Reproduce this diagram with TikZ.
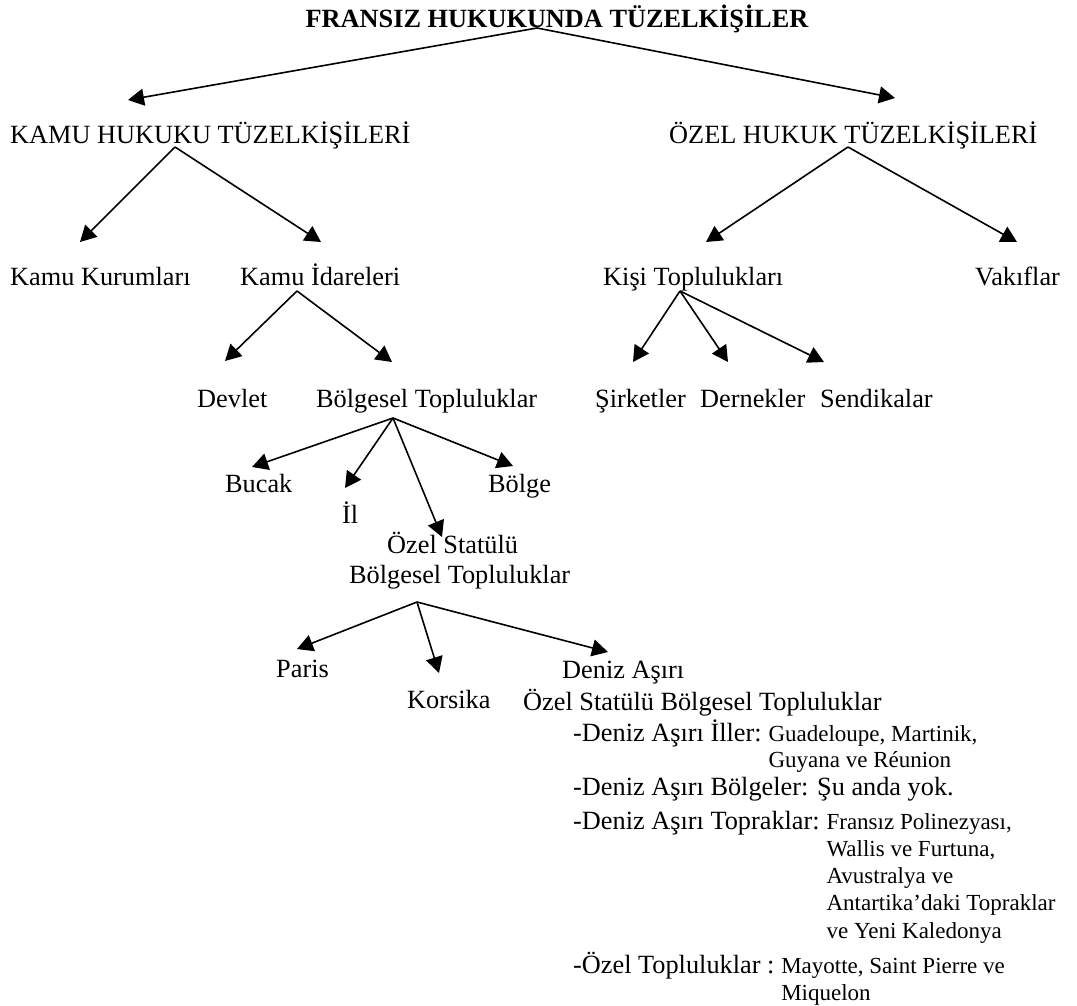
\documentclass[tikz,border=0pt]{standalone}
\usepackage{fontspec}
\setmainfont{Liberation Serif}
\usetikzlibrary{arrows.meta}
\tikzset{
  lbl/.style={inner sep=0pt, anchor=base west, font=\fontsize{26.3}{30}\selectfont},
  sml/.style={inner sep=0pt, anchor=base west, font=\fontsize{23}{27}\selectfont},
  ttl/.style={inner sep=0pt, anchor=base, font=\bfseries\fontsize{26.3}{30}\selectfont},
  arr/.style={line width=1.6pt, -{Triangle[length=16pt,width=17pt]}}
}
\begin{document}
\begin{tikzpicture}[x=1pt,y=-1pt]
\useasboundingbox (0,0) rectangle (1077,1005);
% level 0
\node[ttl] (title) at (557,27) {FRANSIZ HUKUKUNDA TÜZELKİŞİLER};
% level 1
\node[lbl] (kamu) at (10,143) {KAMU HUKUKU TÜZELKİŞİLERİ};
\node[lbl] (ozel) at (669,143) {ÖZEL HUKUK TÜZELKİŞİLERİ};
% level 2
\node[lbl] (kk) at (10,285) {Kamu Kurumları};
\node[lbl] (ki) at (240,285) {Kamu İdareleri};
\node[lbl] (kt) at (603,285) {Kişi Toplulukları};
\node[lbl] (vak) at (975,285) {Vakıflar};
% level 3
\node[lbl] (dev) at (197,407) {Devlet};
\node[lbl] (bt) at (316,407) {Bölgesel Topluluklar};
\node[lbl] (sir) at (595,407) {Şirketler};
\node[lbl] (der) at (700,407) {Dernekler};
\node[lbl] (sen) at (820,407) {Sendikalar};
% level 4
\node[lbl] (buc) at (225,492) {Bucak};
\node[lbl] (il) at (342,523) {İl};
\node[lbl] (bol) at (488,492) {Bölge};
\node[lbl] (ost1) at (387,553) {Özel Statülü};
\node[lbl] (ost2) at (349,583) {Bölgesel Topluluklar};
% level 5
\node[lbl] (par) at (276,677) {Paris};
\node[lbl] (kor) at (407,708) {Korsika};
\node[lbl] (da1) at (562,678) {Deniz Aşırı};
\node[lbl] (da2) at (523,710) {Özel Statülü Bölgesel Topluluklar};
% list
\node[lbl] (l1) at (573,741) {-Deniz Aşırı İller:};
\node[sml] (l1b) at ([shift={(6.5,0)}]l1.base east) {Guadeloupe, Martinik,};
\node[sml] (l1c) at ([shift={(0,26)}]l1b.base west) {Guyana ve Réunion};
\node[lbl] (l2) at (573,795) {-Deniz Aşırı Bölgeler: Şu anda yok.};
\node[lbl] (l3) at (573,829) {-Deniz Aşırı Topraklar:};
\node[sml] (l3b) at ([shift={(6.5,0)}]l3.base east) {Fransız Polinezyası,};
\node[sml] (l3c) at ([shift={(0,27.3)}]l3b.base west) {Wallis ve Furtuna,};
\node[sml] (l3d) at ([shift={(0,27.3)}]l3c.base west) {Avustralya ve};
\node[sml] (l3e) at ([shift={(0,27.3)}]l3d.base west) {Antartika’daki Topraklar};
\node[sml] (l3f) at ([shift={(0,27.3)}]l3e.base west) {ve Yeni Kaledonya};
\node[lbl] (l4) at (573,973) {-Özel Topluluklar :};
\node[sml] (l4b) at ([shift={(6.5,0)}]l4.base east) {Mayotte, Saint Pierre ve};
\node[sml] (l4c) at ([shift={(0,27)}]l4b.base west) {Miquelon};
% connectors
\draw[arr] ([shift={(-20,1)}]title.base) -- ([shift={(118,-43)}]kamu.base west);
\draw[arr] ([shift={(-20,1)}]title.base) -- ([shift={(226,-45)}]ozel.base west);
\draw[arr] ([shift={(165,4)}]kamu.base west) -- ([shift={(70,-43)}]kk.base west);
\draw[arr] ([shift={(165,4)}]kamu.base west) -- ([shift={(81,-43)}]ki.base west);
\draw[arr] ([shift={(179,4)}]ozel.base west) -- ([shift={(103,-43)}]kt.base west);
\draw[arr] ([shift={(179,4)}]ozel.base west) -- ([shift={(42,-43)}]vak.base west);
\draw[arr] ([shift={(57,6)}]ki.base west) -- ([shift={(28,-46)}]dev.base west);
\draw[arr] ([shift={(57,6)}]ki.base west) -- ([shift={(76,-45)}]bt.base west);
\draw[arr] ([shift={(77,6)}]kt.base west) -- ([shift={(38,-45)}]sir.base west);
\draw[arr] ([shift={(77,6)}]kt.base west) -- ([shift={(28,-45)}]der.base west);
\draw[arr] ([shift={(77,6)}]kt.base west) -- ([shift={(4,-45)}]sen.base west);
\draw[arr] ([shift={(77,11)}]bt.base west) -- ([shift={(27,-25)}]buc.base west);
\draw[arr] ([shift={(77,11)}]bt.base west) -- ([shift={(3,-35)}]il.base west);
\draw[arr] ([shift={(77,11)}]bt.base west) -- ([shift={(55,-16)}]ost1.base west);
\draw[arr] ([shift={(77,11)}]bt.base west) -- ([shift={(25,-26)}]bol.base west);
\draw[arr] ([shift={(68,19)}]ost2.base west) -- ([shift={(21,-28)}]par.base west);
\draw[arr] ([shift={(68,19)}]ost2.base west) -- ([shift={(32,-35)}]kor.base west);
\draw[arr] ([shift={(68,19)}]ost2.base west) -- ([shift={(46,-26)}]da1.base west);
\end{tikzpicture}
\end{document}
